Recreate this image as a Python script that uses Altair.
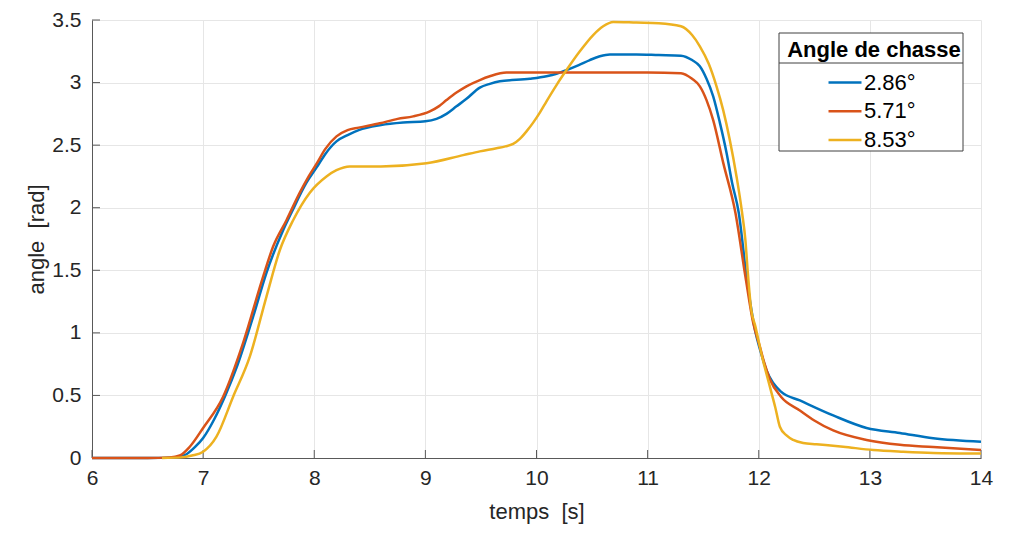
import altair as alt
import pandas as pd

series_names = ["2.86°", "5.71°", "8.53°"]
series_colors = ["#0072BD", "#D95319", "#EDB120"]

t_blue = [6.0, 6.5, 6.75, 6.85, 6.93, 7.0, 7.1, 7.2, 7.3, 7.45, 7.57, 7.72, 7.8, 7.93,
          8.02, 8.1, 8.2, 8.3, 8.4, 8.6, 8.8, 9.0, 9.1, 9.19, 9.28, 9.37, 9.49, 9.58,
          9.67, 9.94, 10.09, 10.18, 10.27, 10.38, 10.48, 10.57, 10.66, 10.9, 11.1, 11.3, 11.4,
          11.47, 11.53, 11.59, 11.65, 11.71, 11.76, 11.82, 11.89, 11.96, 12.03, 12.07, 12.13,
          12.2, 12.37, 12.67, 12.97, 13.27, 13.57, 14.0]
a_blue = [0.0, 0.0, 0.005, 0.03, 0.09, 0.16, 0.31, 0.5, 0.72, 1.13, 1.48, 1.82, 1.97, 2.2,
          2.32, 2.43, 2.53, 2.58, 2.62, 2.66, 2.68, 2.69, 2.71, 2.75, 2.81, 2.87, 2.96, 2.99,
          3.01, 3.03, 3.05, 3.07, 3.1, 3.14, 3.18, 3.21, 3.225, 3.225, 3.22, 3.215, 3.18,
          3.13, 3.03, 2.89, 2.68, 2.44, 2.2, 1.96, 1.45, 1.05, 0.81, 0.70, 0.6,
          0.53, 0.46, 0.34, 0.24, 0.20, 0.157, 0.13]

t_red = [6.0, 6.5, 6.7, 6.79, 6.88, 7.0, 7.18, 7.36, 7.54, 7.63, 7.75, 7.87, 7.95, 8.02, 8.1,
         8.2, 8.3, 8.4, 8.59, 8.75, 8.89, 9.04, 9.12, 9.19, 9.28, 9.37, 9.49, 9.58, 9.73, 10.0,
         10.5, 11.0, 11.3, 11.4, 11.47, 11.53, 11.59, 11.68, 11.79, 11.88, 11.95, 12.01, 12.05,
         12.1, 12.2, 12.37, 12.5, 12.67, 12.97, 13.27, 13.57, 14.0]
a_red = [0.0, 0.0, 0.005, 0.02, 0.09, 0.24, 0.49, 0.92, 1.45, 1.69, 1.9, 2.12, 2.25, 2.35, 2.47,
         2.57, 2.62, 2.64, 2.675, 2.71, 2.73, 2.77, 2.81, 2.86, 2.92, 2.97, 3.02, 3.05, 3.08, 3.08,
         3.08, 3.08, 3.075, 3.03, 2.97, 2.86, 2.70, 2.36, 1.96, 1.45, 1.08, 0.89, 0.76,
         0.63, 0.49, 0.38, 0.3, 0.22, 0.144, 0.105, 0.088, 0.064]

t_yel = [6.63, 6.8, 6.9, 7.0, 7.12, 7.27, 7.42, 7.57, 7.69, 7.81, 7.96, 8.11, 8.2, 8.32,
         8.6, 9.01, 9.34, 9.49, 9.64, 9.72, 9.79, 9.85, 9.91, 9.97, 10.03, 10.09, 10.18,
         10.27, 10.39, 10.51, 10.6, 10.69, 10.9, 11.1, 11.3, 11.4, 11.47, 11.55, 11.62,
         11.68, 11.74, 11.8, 11.85, 11.88, 11.9, 11.93, 11.97, 12.03, 12.1, 12.15, 12.19,
         12.25, 12.31, 12.4, 12.52, 12.76, 13.03, 13.3, 13.57, 14.0]
a_yel = [0.0, 0.005, 0.02, 0.05, 0.17, 0.49, 0.81, 1.29, 1.66, 1.9, 2.12, 2.25, 2.3, 2.33,
         2.33, 2.355, 2.42, 2.45, 2.475, 2.49, 2.51, 2.55, 2.61, 2.68, 2.76, 2.85, 2.98,
         3.1, 3.25, 3.38, 3.45, 3.485, 3.48, 3.475, 3.45, 3.38, 3.29, 3.15, 2.97,
         2.78, 2.54, 2.25, 1.96, 1.74, 1.5, 1.2, 1.05, 0.81, 0.57, 0.4, 0.25,
         0.18, 0.144, 0.12, 0.11, 0.09, 0.064, 0.05, 0.04, 0.035]

x_ticks = [6, 7, 8, 9, 10, 11, 12, 13, 14]
y_ticks = [0, 0.5, 1, 1.5, 2, 2.5, 3, 3.5]

rows = []
for name, ts, vs in zip(series_names, [t_blue, t_red, t_yel], [a_blue, a_red, a_yel]):
    for t, v in zip(ts, vs):
        rows.append({"t": t, "a": v, "serie": name})
df = pd.DataFrame(rows)

W, H = 889, 438
FONT = "Liberation Sans"
AXIS_COLOR = "#595959"

x_scale = alt.Scale(domain=[6, 14], nice=False, zero=False)
y_scale = alt.Scale(domain=[0, 3.5], nice=False)

lines = alt.Chart(df).mark_line(strokeWidth=2.5, interpolate="monotone").encode(
    x=alt.X("t:Q", scale=x_scale,
            axis=alt.Axis(values=x_ticks, format="d", title="temps\u00a0 [s]",
                          labelPadding=9, titlePadding=13, labelFlush=False)),
    y=alt.Y("a:Q", scale=y_scale,
            axis=alt.Axis(values=y_ticks, format="~g", title="angle\u00a0 [rad]",
                          labelPadding=11, titlePadding=3, labelFlush=False)),
    color=alt.Color("serie:N",
                    scale=alt.Scale(domain=series_names, range=series_colors),
                    legend=alt.Legend(
                        title="Angle de chasse", orient="none", legendX=687, legendY=12,
                        titleFont=FONT, titleFontSize=22, titleFontWeight="bold",
                        titleColor="#000000", titleAnchor="middle", titleLimit=400,
                        titlePadding=8.5,
                        labelFont=FONT, labelFontSize=22, labelColor="#000000",
                        symbolType="M-1.57,0L1.57,0", symbolSize=441,
                        symbolStrokeWidth=2.5, symbolOffset=1, labelOffset=7,
                        padding=8, rowPadding=5.7)),
)

one = pd.DataFrame({"k": [0]})
legend_box = alt.Chart(one).mark_rect(fill="white", stroke="#404040", strokeWidth=1).encode(
    x=alt.value(687), x2=alt.value(871), y=alt.value(13), y2=alt.value(131))
legend_sep = alt.Chart(one).mark_rule(color="#404040", strokeWidth=1).encode(
    x=alt.value(687), x2=alt.value(871), y=alt.value(43))

xt = pd.DataFrame({"t": x_ticks})
yt = pd.DataFrame({"a": y_ticks})
x_tick_marks = alt.Chart(xt).mark_rule(color=AXIS_COLOR, strokeWidth=1).encode(
    x=alt.X("t:Q", scale=x_scale), y=alt.value(H), y2=alt.value(H - 8))
y_tick_marks = alt.Chart(yt).mark_rule(color=AXIS_COLOR, strokeWidth=1).encode(
    y=alt.Y("a:Q", scale=y_scale), x=alt.value(0), x2=alt.value(8))

chart = alt.layer(x_tick_marks, y_tick_marks, lines, legend_box, legend_sep).properties(
    width=W, height=H,
    autosize=alt.AutoSizeParams(type="none"),
    padding={"left": 84, "top": 12, "right": 35, "bottom": 84},
).configure_view(stroke=None).configure_axis(
    grid=True, gridColor="#e6e6e6", gridWidth=1,
    domainColor=AXIS_COLOR, domainWidth=1, ticks=False,
    labelFont=FONT, labelFontSize=21, labelColor="#262626",
    titleFont=FONT, titleFontSize=22, titleFontWeight="normal", titleColor="#262626",
)

chart.save("out.html", embed_options={"renderer": "svg", "actions": False})
